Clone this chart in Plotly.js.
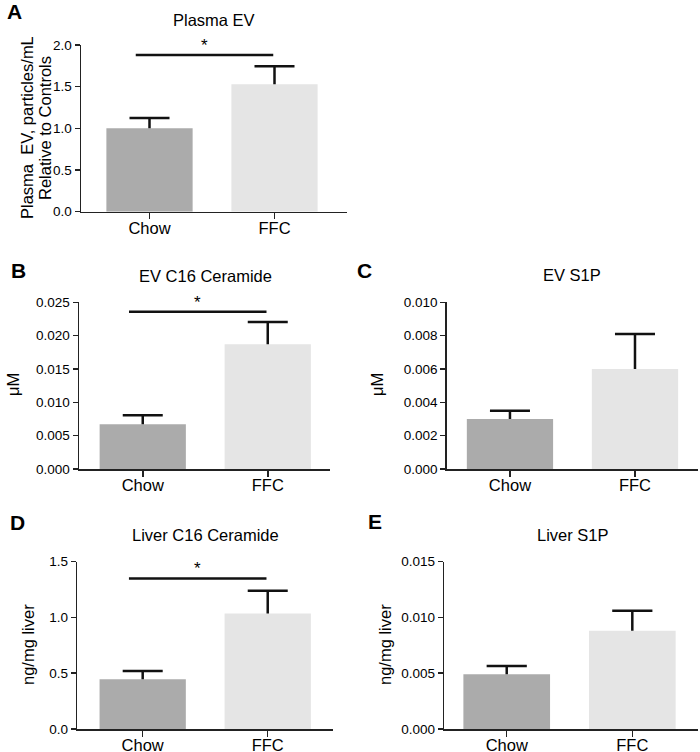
<!DOCTYPE html>
<html><head><meta charset="utf-8">
<script src="https://cdn.plot.ly/plotly-3.0.1.min.js"></script>
<style>html,body{margin:0;padding:0;background:#fff}#chart{width:700px;height:752px}</style>
</head><body><div id="chart"></div>
<script>
// ---- data ----
const categories = ['Chow', 'FFC'];
const panelLetters = ['A', 'B', 'C', 'D', 'E'];
const panelTitles = ['Plasma EV', 'EV C16 Ceramide', 'EV S1P', 'Liver C16 Ceramide', 'Liver S1P'];
const yTitles = ['Plasma\u00a0 EV, particles/mL<br>Relative to Controls', '\u03bcM', '\u03bcM', 'ng/mg liver', 'ng/mg liver'];

const plasmaEV = [1.00, 1.53];
const plasmaEVsem = [0.125, 0.215];
const evC16 = [0.0067, 0.0187];
const evC16sem = [0.00135, 0.00335];
const evS1P = [0.0030, 0.0060];
const evS1Psem = [0.0005, 0.0021];
const liverC16 = [0.445, 1.035];
const liverC16sem = [0.075, 0.205];
const liverS1P = [0.0049, 0.0088];
const liverS1Psem = [0.00075, 0.0018];

const yTickMax = [2.0, 0.025, 0.010, 1.5, 0.015];
const yTickStep = [0.5, 0.005, 0.002, 0.5, 0.005];
const yTickFormat = ['.1f', '.3f', '.3f', '.1f', '.3f'];
const sigY = [1.88, 0.0236, null, 1.35, null];
const sigLabel = ['*', '*', '', '*', ''];

// ---- styling / geometry ----
const W = 700, H = 752;
const values = [plasmaEV, evC16, evS1P, liverC16, liverS1P];
const sems = [plasmaEVsem, evC16sem, evS1Psem, liverC16sem, liverS1Psem];
const boxes = [ // pixel boxes: x0, x1, yTop, yBottom, xrange
  {x0: 81, x1: 347, yt: 45, yb: 211.7, xr: [-0.548, 1.58]},
  {x0: 79, x1: 330, yt: 302.3, yb: 469, xr: [-0.51, 1.498]},
  {x0: 446.7, x1: 698, yt: 302.3, yb: 469, xr: [-0.506, 1.504]},
  {x0: 77.3, x1: 333, yt: 561.7, yb: 729, xr: [-0.523, 1.522]},
  {x0: 444.3, x1: 698, yt: 561.7, yb: 729, xr: [-0.497, 1.523]}
];
const letterPos = [[14, 12], [18, 270], [364, 270], [17, 522], [375, 521]];
const titlePos = [[214, 20], [205, 276], [572, 275], [205, 535], [573, 535]];
const yTitlePos = [[36, 128], [13, 385], [377, 385], [28, 645], [385, 645]];
const yTitleLineGap = 18;
const barColors = ['#ababab', '#e5e5e5'];
const FONT = 'Liberation Sans, Arial, sans-serif';
const TXT = '#000';
const capHalf = 0.16;

const data = [];
const layout = {
  width: W, height: H, margin: {l: 0, r: 0, t: 0, b: 0},
  paper_bgcolor: '#fff', plot_bgcolor: 'rgba(0,0,0,0)',
  showlegend: false, font: {family: FONT, color: TXT},
  annotations: [], shapes: []
};

boxes.forEach((b, p) => {
  const xn = p === 0 ? 'x' : 'x' + (p + 1);
  const yn = p === 0 ? 'y' : 'y' + (p + 1);
  const xk = p === 0 ? 'xaxis' : 'xaxis' + (p + 1);
  const yk = p === 0 ? 'yaxis' : 'yaxis' + (p + 1);
  const idx = categories.map((c, i) => i);
  data.push({
    type: 'bar', x: idx, y: values[p], width: 0.69,
    marker: {color: barColors, line: {width: 0}},
    xaxis: xn, yaxis: yn, hoverinfo: 'skip'
  });
  const ex = [], ey = [];
  idx.forEach(i => {
    const v = values[p][i], top = v + sems[p][i];
    ex.push(i, i, null, i - capHalf, i + capHalf, null);
    ey.push(v, top, null, top, top, null);
  });
  data.push({type: 'scatter', mode: 'lines', x: ex, y: ey, xaxis: xn, yaxis: yn,
    line: {color: '#111', width: 2.5}, hoverinfo: 'skip', connectgaps: false});
  if (sigY[p] !== null) {
    data.push({type: 'scatter', mode: 'lines', x: [-0.11, 0.99], y: [sigY[p], sigY[p]],
      xaxis: xn, yaxis: yn, line: {color: '#111', width: 2.5}, hoverinfo: 'skip'});
    layout.annotations.push({xref: xn, yref: yn, x: 0.44, y: sigY[p], text: sigLabel[p],
      showarrow: false, yanchor: 'bottom', yshift: -2, font: {size: 17, color: TXT}});
  }
  layout[xk] = {
    domain: [b.x0 / W, b.x1 / W], anchor: yn, range: b.xr,
    tickvals: idx, ticktext: categories, ticks: 'outside', ticklen: 6, tickwidth: 1.5,
    tickcolor: '#222', showline: true, linecolor: '#222', linewidth: 1.5,
    showgrid: false, zeroline: false, fixedrange: true, ticklabelstandoff: -5,
    tickfont: {size: 16.5, color: TXT, family: FONT}
  };
  const tv = [];
  for (let k = 0; k <= Math.round(yTickMax[p] / yTickStep[p]); k++) tv.push(k * yTickStep[p]);
  layout[yk] = {
    domain: [1 - b.yb / H, 1 - b.yt / H], anchor: xn, range: [0, yTickMax[p]],
    tickvals: tv, tickformat: yTickFormat[p], ticks: 'outside', ticklen: 5, tickwidth: 1.5,
    tickcolor: '#222', showline: true, linecolor: '#222', linewidth: 1.5,
    showgrid: false, zeroline: false, fixedrange: true,
    tickfont: {size: 13.5, color: TXT, family: FONT}
  };
  layout.annotations.push({xref: 'paper', yref: 'paper', x: letterPos[p][0] / W, y: 1 - letterPos[p][1] / H,
    text: '<b>' + panelLetters[p] + '</b>', showarrow: false, xanchor: 'center', yanchor: 'middle',
    font: {size: 21, color: '#000', family: FONT}});
  layout.annotations.push({xref: 'paper', yref: 'paper', x: titlePos[p][0] / W, y: 1 - titlePos[p][1] / H,
    text: panelTitles[p], showarrow: false, xanchor: 'center', yanchor: 'middle',
    font: {size: 16.5, color: TXT, family: FONT}});
  const lines = yTitles[p].split('<br>');
  lines.forEach((ln, li) => {
    const cx = yTitlePos[p][0] + (li - (lines.length - 1) / 2) * yTitleLineGap;
    layout.annotations.push({xref: 'paper', yref: 'paper', x: cx / W, y: 1 - yTitlePos[p][1] / H,
      text: ln, showarrow: false, xanchor: 'center', yanchor: 'middle', textangle: -90,
      font: {size: 16.5, color: TXT, family: FONT}});
  });
});

Plotly.newPlot('chart', data, layout, {displayModeBar: false, staticPlot: true});
</script>
</body></html>
